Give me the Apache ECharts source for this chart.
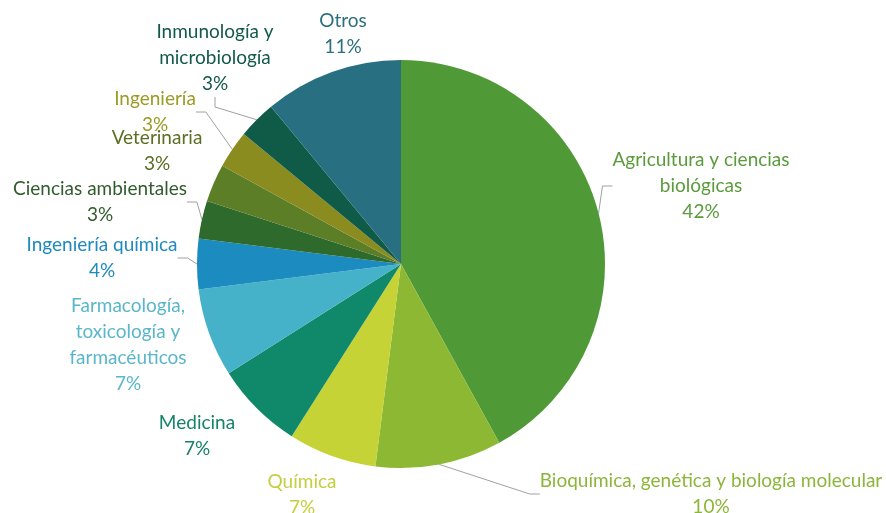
<!DOCTYPE html>
<html><head><meta charset="utf-8">
<script src="https://cdn.jsdelivr.net/npm/echarts@6/dist/echarts.min.js"></script>
<style>html,body{margin:0;padding:0;background:#fff}#c{width:886px;height:513px}</style>
</head><body><div id="c"></div>
<script>
const categories = [
  "Agricultura y ciencias\nbiológicas",
  "Bioquímica, genética y biología molecular",
  "Química",
  "Medicina",
  "Farmacología,\ntoxicología y\nfarmacéuticos",
  "Ingeniería química",
  "Ciencias ambientales",
  "Veterinaria",
  "Ingeniería",
  "Inmunología y\nmicrobiología",
  "Otros"
];
const values = [42, 10, 7, 7, 7, 4, 3, 3, 3, 3, 11];
const sliceColors = ["#4f9a36","#8db833","#c6d336","#10896a","#46b2c9","#1b8bc0","#2e6a2c","#5c7e27","#8b8c20","#0f5b47","#276f81"];
const labelColors = ["#5a9b3c","#8cb63a","#c3cf3e","#15836a","#5ab6cb","#1f8abd","#325b2e","#5b6e22","#9b9b25","#125a49","#2b6f7e"];
const showLine = [true, true, false, false, false, true, true, false, true, true, false];
// label centre positions (layout)
const labelPos = [[701,186],[711,494],[302,495],[197,436],[128,345],[102,258],[100,202],[157,151],[155,112],[215,58],[343,34]];

const chart = echarts.init(document.getElementById('c'), null, {renderer:'canvas'});
chart.setOption({
  animation:false,
  series:[{
    type:'pie',
    center:[401,264],
    radius:204,
    startAngle:90,
    clockwise:true,
    avoidLabelOverlap:false,
    data: categories.map((n,i)=>({
      name:n, value:values[i],
      itemStyle:{color:sliceColors[i]},
      label:{color:labelColors[i]},
      labelLine:{show:showLine[i]}
    })),
    label:{
      show:true,
      formatter:'{b}\n{c}%',
      fontFamily:'Lato',
      fontSize:19,
      lineHeight:26,
      align:'center'
    },
    labelLine:{show:true, length:10, length2:10, lineStyle:{color:'#a0a0a0', width:1}},
    labelLayout:function(p){
      const pos = labelPos[p.dataIndex];
      return {x:pos[0], y:pos[1], align:'center', verticalAlign:'middle'};
    },
    emphasis:{disabled:true}
  }]
});
</script></body></html>
